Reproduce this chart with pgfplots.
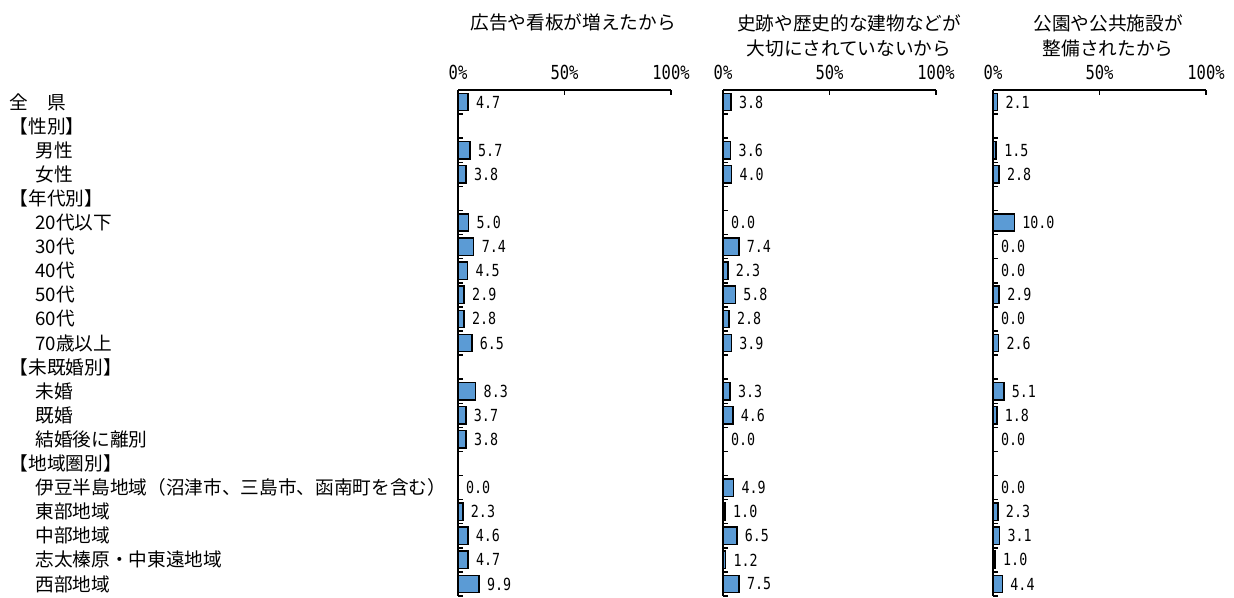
\documentclass[border=0pt]{standalone}
\usepackage{pgfplots}
\pgfplotsset{compat=1.18}
\usepackage{fontspec}
\setmainfont{Noto Sans CJK JP}
\newfontfamily\numfont[FakeStretch=0.8]{DejaVu Sans Mono}
\definecolor{barblue}{HTML}{5B9BD5}
\newcommand\lblfont{\fontsize{14}{16}\selectfont}
\pgfplotsset{
  panel/.style={
    xbar, scale only axis, width=159.75pt, height=379.5pt,
    xmin=0, xmax=100, ymin=-0.5, ymax=20.5, y dir=reverse,
    axis x line*=top, axis y line*=left,
    axis line style={black, line width=1.1pt},
    tick align=inside, major tick length=3.75pt,
    tick style={black, line width=1.1pt},
    xtick={0,50,100}, xticklabels={0\%,50\%,100\%},
    xticklabel style={font=\numfont\fontsize{14.5}{15}\selectfont, anchor=center, yshift=13.5pt},
    ytick={-0.5,0.5,...,20.5}, yticklabels={},
    bar width=13pt, clip=false,
    /pgf/number format/assume math mode=true,
    nodes near coords={\pgfmathprintnumber[fixed,fixed zerofill,precision=1]{\pgfplotspointmeta}},
    every node near coord/.append style={font=\numfont\fontsize{12.5}{13}\selectfont, inner sep=0pt, anchor=west, xshift=5.5pt, black},
  },
  barstyle/.style={fill=barblue, draw=black, line width=1.1pt},
}
\begin{document}
\begin{tikzpicture}
\useasboundingbox (0,0) rectangle (925.5pt,447.75pt);
% panel 1
\begin{axis}[panel, at={(343.5pt,0.75pt)}, anchor=south west]
\addplot[barstyle] coordinates {(4.7,0) (5.7,2) (3.8,3) (5.0,5) (7.4,6) (4.5,7) (2.9,8) (2.8,9) (6.5,10) (8.3,12) (3.7,13) (3.8,14) (0.0,16) (2.3,17) (4.6,18) (4.7,19) (9.9,20)};
\def\xa{-210.5}
\def\xb{-198.5}
\tikzset{rl/.style={anchor=west, inner sep=0pt, font=\lblfont}}
\node[rl] at (axis cs:\xa,0) {全　県};
\node[rl] at (axis cs:\xa,1) {【性別】};
\node[rl] at (axis cs:\xb,2) {男性};
\node[rl] at (axis cs:\xb,3) {女性};
\node[rl] at (axis cs:\xa,4) {【年代別】};
\node[rl] at (axis cs:\xb,5) {20代以下};
\node[rl] at (axis cs:\xb,6) {30代};
\node[rl] at (axis cs:\xb,7) {40代};
\node[rl] at (axis cs:\xb,8) {50代};
\node[rl] at (axis cs:\xb,9) {60代};
\node[rl] at (axis cs:\xb,10) {70歳以上};
\node[rl] at (axis cs:\xa,11) {【未既婚別】};
\node[rl] at (axis cs:\xb,12) {未婚};
\node[rl] at (axis cs:\xb,13) {既婚};
\node[rl] at (axis cs:\xb,14) {結婚後に離別};
\node[rl] at (axis cs:\xa,15) {【地域圏別】};
\node[rl] at (axis cs:\xb,16) {伊豆半島地域（沼津市、三島市、函南町を含む）};
\node[rl] at (axis cs:\xb,17) {東部地域};
\node[rl] at (axis cs:\xb,18) {中部地域};
\node[rl] at (axis cs:\xb,19) {志太榛原・中東遠地域};
\node[rl] at (axis cs:\xb,20) {西部地域};
\end{axis}
% panel 2
\begin{axis}[panel, at={(542.25pt,0.75pt)}, anchor=south west]
\addplot[barstyle] coordinates {(3.8,0) (3.6,2) (4.0,3) (0.0,5) (7.4,6) (2.3,7) (5.8,8) (2.8,9) (3.9,10) (3.3,12) (4.6,13) (0.0,14) (4.9,16) (1.0,17) (6.5,18) (1.2,19) (7.5,20)};
\end{axis}
% panel 3
\begin{axis}[panel, at={(744.75pt,0.75pt)}, anchor=south west]
\addplot[barstyle] coordinates {(2.1,0) (1.5,2) (2.8,3) (10.0,5) (0.0,6) (0.0,7) (2.9,8) (0.0,9) (2.6,10) (5.1,12) (1.8,13) (0.0,14) (0.0,16) (2.3,17) (3.1,18) (1.0,19) (4.4,20)};
\end{axis}
% titles
\tikzset{tl/.style={inner sep=0pt, font=\lblfont}}
\node[tl] at (429.75pt,431.25pt) {広告や看板が増えたから};
\node[tl] at (636.75pt,430.5pt) {史跡や歴史的な建物などが};
\node[tl] at (636.75pt,411.75pt) {大切にされていないから};
\node[tl] at (831pt,430.5pt) {公園や公共施設が};
\node[tl] at (831pt,411.75pt) {整備されたから};
\end{tikzpicture}
\end{document}
